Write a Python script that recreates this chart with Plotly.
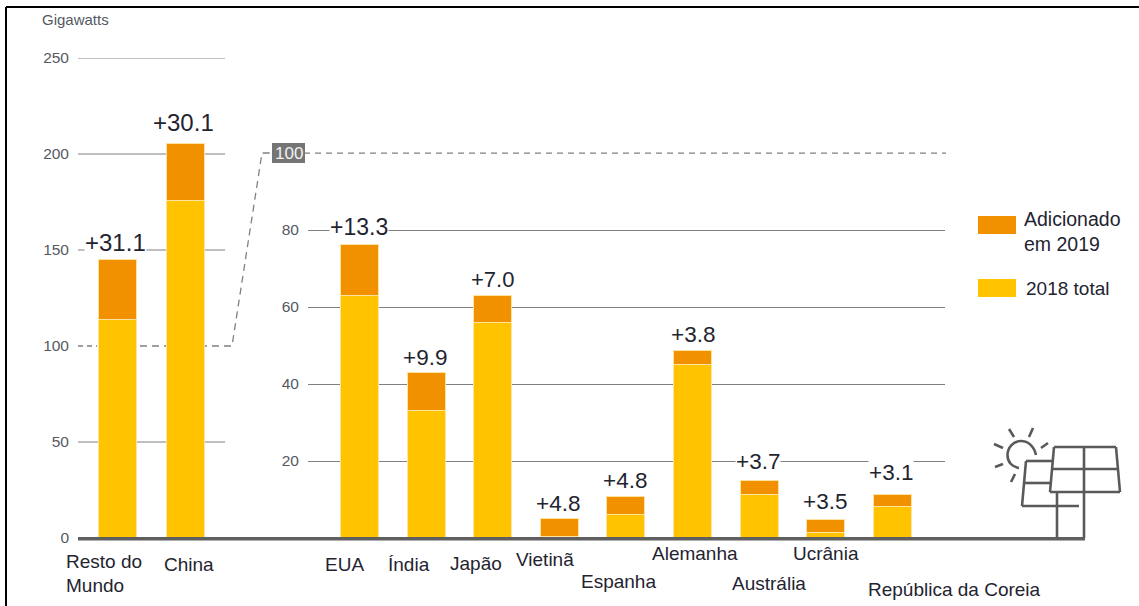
import plotly.graph_objects as go

# ---- data ----
left_categories = ["Resto do Mundo", "China"]
left_2018 = [114.0, 175.6]
left_added = [31.1, 30.1]

right_categories = ["EUA", "Índia", "Japão", "Vietinã", "Espanha", "Alemanha", "Austrália", "Ucrânia", "República da Coreia"]
right_2018 = [63.0, 33.2, 56.0, 0.3, 6.1, 45.0, 11.3, 1.4, 8.2]
right_added = [13.3, 9.9, 7.0, 4.8, 4.8, 3.8, 3.7, 3.5, 3.1]

left_ticks = [0, 50, 100, 150, 200, 250]
right_ticks = [20, 40, 60, 80]

series_2018 = "2018 total"
series_added = "Adicionado<br>em 2019"
unit_label = "Gigawatts"
zoom_tick = "100"

# ---- style ----
W, H = 1139, 606
ORANGE = "#F29100"
YELLOW = "#FFC300"
EDGE = "#FFE3A0"
GRID = "#808080"
DASH = "#808080"
BASE = "#5f5f5f"
ICON = "#5a5a5a"
TICKC = "#55595f"
TEXTC = "#1f2430"
FONT = "Liberation Sans, Arial, sans-serif"

px = lambda x: x / W
py = lambda y: 1 - y / H

fig = go.Figure()
edge = dict(color=EDGE, width=1)
fig.add_bar(x=left_categories, y=left_2018, xaxis="x", yaxis="y", marker=dict(color=YELLOW, line=edge), width=0.56, showlegend=False, name=series_2018)
fig.add_bar(x=left_categories, y=left_added, xaxis="x", yaxis="y", marker=dict(color=ORANGE, line=edge), width=0.56, showlegend=False, name="Adicionado em 2019")
fig.add_bar(x=right_categories, y=right_2018, xaxis="x2", yaxis="y2", marker=dict(color=YELLOW, line=edge), width=0.57, showlegend=False, name=series_2018)
fig.add_bar(x=right_categories, y=right_added, xaxis="x2", yaxis="y2", marker=dict(color=ORANGE, line=edge), width=0.57, showlegend=False, name="Adicionado em 2019")

shapes = []
def line(x0, y0, x1, y1, color=ICON, width=2.5, dash=None, layer="above"):
    shapes.append(dict(type="line", xref="paper", yref="paper", x0=px(x0), y0=py(y0), x1=px(x1), y1=py(y1),
                       line=dict(color=color, width=width, dash=dash), layer=layer))

# gridlines of the left panel, through its own scale (the 100 line is dashed)
for t in left_ticks:
    if t == 0:
        continue
    if t == 100:
        shapes.append(dict(type="line", xref="x domain", yref="y", x0=0, x1=0.13, y0=t, y1=t, line=dict(color=DASH, width=1.3, dash="5px,4px"), layer="below"))
    else:
        shapes.append(dict(type="line", xref="x domain", yref="y", x0=0, x1=1, y0=t, y1=t, line=dict(color=GRID, width=1.2), layer="below"))

# connector from left 100 to right 100
shapes.append(dict(type="path", xref="paper", yref="paper", layer="below",
                   path=f"M{px(140)},{py(346)} L{px(232)},{py(346)} L{px(262)},{py(153)} L{px(272)},{py(153)}",
                   line=dict(color=DASH, width=1.3, dash="7px,5px")))
shapes.append(dict(type="line", xref="paper", yref="y2", x0=px(304), x1=px(946), y0=100, y1=100,
                   line=dict(color=DASH, width=1.3, dash="6px,5px"), layer="below"))
shapes.append(dict(type="rect", xref="paper", yref="paper", x0=px(272), x1=px(305), y0=py(143), y1=py(163),
                   fillcolor="#757575", line=dict(width=0), layer="above"))

# frame
line(6, 7, 1139, 7, color="#000000", width=2)
line(6, 7, 6, 606, color="#000000", width=2)

# baseline
line(78, 538.8, 1085, 538.8, color=BASE, width=3.5)

# legend swatches
for y0, c in [(216, ORANGE), (279, YELLOW)]:
    shapes.append(dict(type="rect", xref="paper", yref="paper", x0=px(978), x1=px(1016), y0=py(y0), y1=py(y0 + 18),
                       fillcolor=c, line=dict(width=0)))

# solar panel icon
for seg in [(1054, 447, 1116, 447), (1116, 447, 1120, 492), (1120, 492, 1050, 492), (1050, 492, 1054, 447),
            (1052, 469, 1118, 469), (1084, 447, 1084, 538), (1057, 492, 1057, 538),
            (1026, 461, 1054, 461), (1026, 461, 1022, 506), (1022, 506, 1079, 506), (1025, 483, 1052, 483),
            (1009, 429, 1014, 437), (1033, 428, 1029, 437), (994, 444, 1003, 448), (1048, 443, 1041, 448),
            (995, 467, 1003, 464), (1015, 474, 1011, 482)]:
    line(*seg, width=2.6)
# sun arc
sx = lambda x: px(x)
sy = lambda y: py(y)
shapes.append(dict(type="path", xref="paper", yref="paper",
                   path=(f"M{sx(1036)},{sy(455)} C{sx(1034)},{sy(446)} {sx(1028)},{sy(441)} {sx(1021)},{sy(441)} "
                         f"C{sx(1013)},{sy(441)} {sx(1007.5)},{sy(448)} {sx(1007.5)},{sy(455)} "
                         f"C{sx(1007.5)},{sy(462)} {sx(1012)},{sy(467)} {sx(1019)},{sy(468)}"),
                   line=dict(color=ICON, width=2.6)))

ann = []
def text(x, y, s, size, color=TEXTC, anchor="left", bg=None):
    a = dict(xref="paper", yref="paper", x=px(x), y=py(y), text=s, showarrow=False, xanchor=anchor, yanchor="middle",
             align="left", font=dict(family=FONT, size=size, color=color), borderpad=0)
    if bg:
        a["bgcolor"] = bg
    ann.append(a)

text(41, 20, unit_label, 15, TICKC)
text(288.5, 153, zoom_tick, 17, "#f2f2f2", anchor="center")

# category labels: (left x, centre y)
label_pos = [(65, 561, "Resto do"), (65, 585, "Mundo"), (163, 564, left_categories[1])]
right_label_pos = [(324, 564), (387, 564), (449, 563), (515, 559), (580, 581), (651, 553), (731, 583), (792, 553), (867, 589)]
for x, y, s in label_pos:
    text(x, y, s, 19)
for (x, y), s in zip(right_label_pos, right_categories):
    text(x, y, s, 19)

# value labels
def vlabel(x, y, v, size, bg="white"):
    text(x, y, f"+{v:.1f}", size, anchor="center", bg=bg)

left_lab = [(115, 242, 24), (183, 122, 24)]
right_lab = [(359, 227, 23), (425, 357, 22.5), (492, 279, 22), (558, 503, 22.5), (625, 480, 22.5), (693, 334, 22.5), (758, 461, 22.5), (825, 501, 22.5), (891, 472, 22.5)]
for (x, y, sz), v in zip(left_lab, left_added):
    vlabel(x, y, v, sz)
for (x, y, sz), v in zip(right_lab, right_added):
    vlabel(x, y, v, sz)

# legend text
text(1023, 232, series_added, 19.5)
text(1025, 288, series_2018, 19)

tick_common = dict(ticks="", showline=False, zeroline=False, ticklabelstandoff=8, automargin=False,
                   tickfont=dict(family=FONT, size=15.5, color=TICKC))
xcommon = dict(type="category", showticklabels=False, showgrid=False, ticks="", zeroline=False, automargin=False)
fig.update_layout(
    width=W, height=H, margin=dict(l=0, r=0, t=0, b=0, pad=0), autosize=False,
    barmode="stack", bargap=0.42, plot_bgcolor="white", paper_bgcolor="white", showlegend=False,
    font=dict(family=FONT),
    xaxis=dict(domain=[px(78), px(225)], range=[-0.58, 1.58], anchor="y", **xcommon),
    xaxis2=dict(domain=[px(308), px(945)], range=[-0.773, 8.79], anchor="y2", **xcommon),
    yaxis=dict(domain=[py(538), py(58)], range=[0, 250], anchor="x", tickmode="array", tickvals=left_ticks, showgrid=False, **tick_common),
    yaxis2=dict(domain=[py(538), py(58)], range=[0, 124.7], anchor="x2", tickmode="array", tickvals=right_ticks, showgrid=True, gridcolor=GRID, gridwidth=1.2, **tick_common),
    shapes=shapes, annotations=ann,
)
fig.write_html("out.html", config={"displayModeBar": False}, post_script="document.body.style.margin='0';")
